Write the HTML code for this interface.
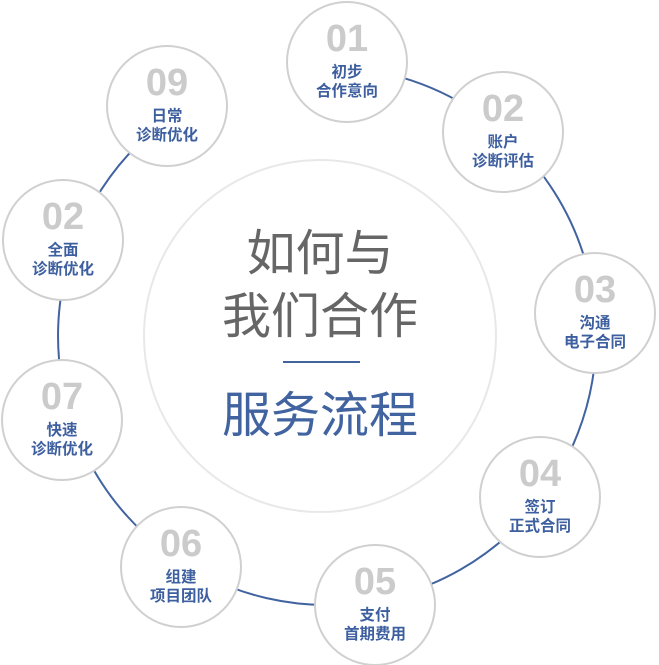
<!DOCTYPE html>
<html><head><meta charset="utf-8"><style>
html,body{margin:0;padding:0;background:#fff;}
svg{display:block}
.n{font-family:"Liberation Sans Narrow","Liberation Sans",sans-serif;font-weight:bold;font-size:38px;fill:#cbcbcb;text-anchor:middle}
.l{font-family:"Liberation Sans","Noto Sans CJK SC",sans-serif;font-weight:bold;font-size:15.5px;fill:#3d5f9f;text-anchor:middle}
.c{font-family:"Liberation Sans","Noto Sans CJK SC",sans-serif;font-size:49px;text-anchor:middle}
</style></head><body>
<svg width="659" height="665" viewBox="0 0 659 665" xmlns="http://www.w3.org/2000/svg">
<path d="M346.7 67.7 A269 269 0 1 1 173.5 115.1" fill="none" stroke="#4163a0" stroke-width="2"/>
<circle cx="320" cy="336" r="176" fill="#fff" stroke="#e8e8e8" stroke-width="2"/>
<text class="c" x="320" y="270" fill="#666">如何与</text>
<text class="c" x="320" y="333" fill="#666">我们合作</text>
<rect x="283" y="361" width="77" height="2" fill="#4163a0"/>
<text class="c" x="320" y="432" fill="#4163a0">服务流程</text>
<g fill="#fff" stroke="#d0d0d0" stroke-width="2">
<circle cx="347" cy="62" r="60"/>
<circle cx="503" cy="132" r="60"/>
<circle cx="595" cy="313" r="60"/>
<circle cx="540" cy="497" r="60"/>
<circle cx="375" cy="605" r="60"/>
<circle cx="181" cy="567" r="60"/>
<circle cx="62" cy="420" r="60"/>
<circle cx="63" cy="240" r="60"/>
<circle cx="167" cy="106" r="60"/>
</g>
<text class="n" x="347" y="51">01</text><text class="l" x="347" y="77">初步</text><text class="l" x="347" y="96">合作意向</text>
<text class="n" x="503" y="121">02</text><text class="l" x="503" y="147">账户</text><text class="l" x="503" y="166">诊断评估</text>
<text class="n" x="595" y="302">03</text><text class="l" x="595" y="328">沟通</text><text class="l" x="595" y="347">电子合同</text>
<text class="n" x="540" y="486">04</text><text class="l" x="540" y="512">签订</text><text class="l" x="540" y="531">正式合同</text>
<text class="n" x="375" y="594">05</text><text class="l" x="375" y="620">支付</text><text class="l" x="375" y="639">首期费用</text>
<text class="n" x="181" y="556">06</text><text class="l" x="181" y="582">组建</text><text class="l" x="181" y="601">项目团队</text>
<text class="n" x="62" y="409">07</text><text class="l" x="62" y="435">快速</text><text class="l" x="62" y="454">诊断优化</text>
<text class="n" x="63" y="229">02</text><text class="l" x="63" y="255">全面</text><text class="l" x="63" y="274">诊断优化</text>
<text class="n" x="167" y="95">09</text><text class="l" x="167" y="121">日常</text><text class="l" x="167" y="140">诊断优化</text>
</svg>
</body></html>
